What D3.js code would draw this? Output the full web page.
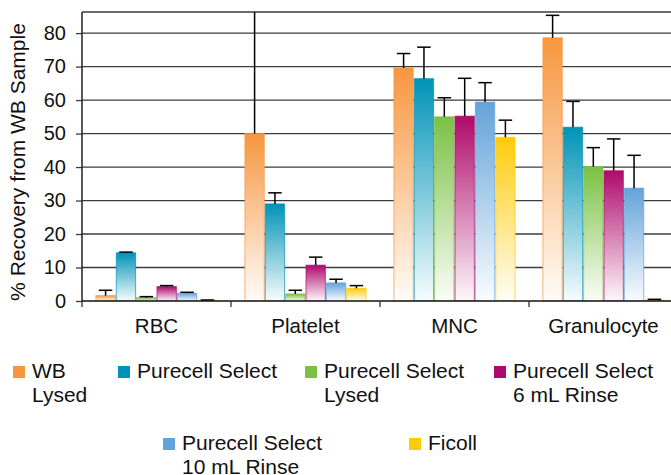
<!DOCTYPE html>
<html>
<head>
<meta charset="utf-8">
<script src="https://cdn.jsdelivr.net/npm/d3@7"></script>
<style>
  body { margin: 0; background: #fff; }
  svg { display: block; font-family: "Liberation Sans", Arial, Helvetica, sans-serif; }
</style>
</head>
<body>
<svg id="chart"></svg>
<script>
"use strict";

// =================== DATA ===================
const categories = ["RBC", "Platelet", "MNC", "Granulocyte"];
const seriesNames = ["WB Lysed", "Purecell Select", "Purecell Select Lysed",
  "Purecell Select 6 mL Rinse", "Purecell Select 10 mL Rinse", "Ficoll"];
// legend labels as they wrap in the original
const legendLines = [["WB", "Lysed"], ["Purecell Select"], ["Purecell Select", "Lysed"],
  ["Purecell Select", "6 mL Rinse"], ["Purecell Select", "10 mL Rinse"], ["Ficoll"]];
const seriesColors = ["#F7963F", "#0093B7", "#7AC143", "#AF0A6B", "#63A3D9", "#FFCC0A"];

// mean recovery (%) per series, in category order
const wbLysed   = [1.6, 50.0, 69.6, 78.6];
const pcSelect  = [14.4, 29.0, 66.4, 51.9];
const pcLysed   = [1.0, 2.1, 55.0, 40.1];
const pcRinse6  = [4.3, 10.7, 55.2, 38.9];
const pcRinse10 = [2.3, 5.4, 59.4, 33.7];
const ficoll    = [0.2, 3.8, 48.9, 0.3];

// upper error (+ SD) per series
const wbLysedErr   = [1.6, 45.0, 4.3, 6.7];
const pcSelectErr  = [0.2, 3.3, 9.4, 7.7];
const pcLysedErr   = [0.3, 1.1, 5.7, 5.7];
const pcRinse6Err  = [0.3, 2.4, 11.3, 9.5];
const pcRinse10Err = [0.3, 1.1, 5.8, 9.8];
const ficollErr    = [0.1, 0.8, 5.1, 0.2];

const yTicks = [0, 10, 20, 30, 40, 50, 60, 70, 80];

const values = [wbLysed, pcSelect, pcLysed, pcRinse6, pcRinse10, ficoll];
const errors = [wbLysedErr, pcSelectErr, pcLysedErr, pcRinse6Err, pcRinse10Err, ficollErr];

const rows = [];
categories.forEach((c, ci) => {
  seriesNames.forEach((s, si) => {
    rows.push({ cat: c, series: s, si: si, value: values[si][ci], err: errors[si][ci] });
  });
});

// =================== SETUP ===================
const svgWidth = 671, svgHeight = 475;
const plot = { left: 82, right: 678, top: 12, bottom: 301 };

const svg = d3.select("#chart").attr("width", svgWidth).attr("height", svgHeight);

const x0 = d3.scaleBand().domain(categories).range([plot.left, plot.right])
  .paddingInner(0.18).paddingOuter(0.09);
const x1 = d3.scaleBand().domain(seriesNames).range([0, x0.bandwidth()]);
const y = d3.scaleLinear().domain([0, 86.3]).range([plot.bottom, plot.top]);

// gradients: saturated at top, fading to white at the base
const defs = svg.append("defs");
seriesColors.forEach((c, i) => {
  const g = defs.append("linearGradient").attr("id", "grad" + i)
    .attr("x1", 0).attr("y1", 0).attr("x2", 0).attr("y2", 1);
  g.append("stop").attr("offset", "0%").attr("stop-color", c);
  g.append("stop").attr("offset", "100%").attr("stop-color", d3.interpolateRgb(c, "#fff")(0.97));
});
defs.append("clipPath").attr("id", "plotClip").append("rect")
  .attr("x", plot.left).attr("y", plot.top)
  .attr("width", plot.right - plot.left).attr("height", plot.bottom - plot.top);

// =================== GRID ===================
const gridColor = "#3c3c3c";
svg.append("g").selectAll("line")
  .data(yTicks.filter(t => t > 0))
  .join("line")
  .attr("x1", plot.left).attr("x2", plot.right)
  .attr("y1", d => y(d)).attr("y2", d => y(d))
  .attr("stroke", gridColor).attr("stroke-width", 1.3);
svg.append("line")
  .attr("x1", plot.left).attr("x2", plot.right)
  .attr("y1", plot.top).attr("y2", plot.top)
  .attr("stroke", gridColor).attr("stroke-width", 1.3);

// =================== BARS ===================
const barG = svg.append("g").attr("clip-path", "url(#plotClip)");
barG.selectAll("rect.bar")
  .data(rows)
  .join("rect")
  .attr("class", "bar")
  .attr("x", d => x0(d.cat) + x1(d.series) + 0.5)
  .attr("y", d => y(d.value))
  .attr("width", x1.bandwidth() - 1)
  .attr("height", d => y(0) - y(d.value))
  .attr("fill", d => `url(#grad${d.si})`)
  .attr("stroke", d => seriesColors[d.si])
  .attr("stroke-opacity", 0.7)
  .attr("stroke-width", 1);

// error bars (upper only)
const capW = 13.5;
const errG = barG.selectAll("g.err").data(rows).join("g").attr("class", "err");
errG.append("line")
  .attr("x1", d => x0(d.cat) + x1(d.series) + x1.bandwidth() / 2)
  .attr("x2", d => x0(d.cat) + x1(d.series) + x1.bandwidth() / 2)
  .attr("y1", d => y(d.value))
  .attr("y2", d => y(d.value + d.err))
  .attr("stroke", "#000").attr("stroke-width", 1.5);
errG.append("line")
  .attr("x1", d => x0(d.cat) + x1(d.series) + x1.bandwidth() / 2 - capW / 2)
  .attr("x2", d => x0(d.cat) + x1(d.series) + x1.bandwidth() / 2 + capW / 2)
  .attr("y1", d => y(d.value + d.err))
  .attr("y2", d => y(d.value + d.err))
  .attr("stroke", "#000").attr("stroke-width", 1.5);

// =================== AXES ===================
const yAxis = d3.axisLeft(y).tickValues(yTicks).tickSize(6).tickPadding(10);
const yg = svg.append("g").attr("transform", `translate(${plot.left},0)`).call(yAxis);
yg.select(".domain").remove();
yg.selectAll(".tick line").attr("stroke", gridColor).attr("stroke-width", 1.3);
yg.selectAll(".tick text").style("font-size", "20px").attr("fill", "#111")
  .attr("font-family", "Liberation Sans, Arial, sans-serif");

svg.append("line")
  .attr("x1", plot.left).attr("x2", plot.left)
  .attr("y1", plot.top).attr("y2", plot.bottom)
  .attr("stroke", "#222").attr("stroke-width", 1.5);
svg.append("line")
  .attr("x1", plot.left).attr("x2", plot.right)
  .attr("y1", plot.bottom).attr("y2", plot.bottom)
  .attr("stroke", "#111").attr("stroke-width", 1.5);

// category boundary ticks
const step = x0.step();
svg.append("g").selectAll("line")
  .data(categories.map((c, i) => i))
  .join("line")
  .attr("x1", i => plot.left + i * step).attr("x2", i => plot.left + i * step)
  .attr("y1", plot.bottom).attr("y2", plot.bottom + 6)
  .attr("stroke", "#333").attr("stroke-width", 1.3);

svg.append("g").selectAll("text")
  .data(categories)
  .join("text")
  .attr("x", d => x0(d) + x0.bandwidth() / 2)
  .attr("y", 333)
  .attr("text-anchor", "middle")
  .style("font-size", "20.5px")
  .attr("fill", "#111")
  .text(d => d);

// y title
svg.append("text")
  .attr("transform", "rotate(-90)")
  .attr("x", -162)
  .attr("y", 25)
  .attr("text-anchor", "middle")
  .style("font-size", "21px")
  .attr("fill", "#111")
  .text("% Recovery from WB Sample");

// =================== LEGEND ===================
const legendPos = [
  { x: 13, y: 378 }, { x: 118, y: 378 }, { x: 305, y: 378 }, { x: 494, y: 378 },
  { x: 163, y: 450 }, { x: 409, y: 450 }
];
const lg = svg.append("g").selectAll("g").data(seriesNames).join("g")
  .attr("transform", (d, i) => `translate(${legendPos[i].x},${legendPos[i].y})`);
lg.append("rect")
  .attr("x", 0).attr("y", -12).attr("width", 12).attr("height", 12)
  .attr("fill", (d, i) => seriesColors[i]);
lg.each(function (d, i) {
  const t = d3.select(this).append("text")
    .attr("x", 19).attr("y", 0)
    .style("font-size", "21px").attr("fill", "#111");
  legendLines[i].forEach((line, li) => {
    t.append("tspan").attr("x", 19).attr("y", li * 24).text(line);
  });
});
</script>
</body>
</html>
